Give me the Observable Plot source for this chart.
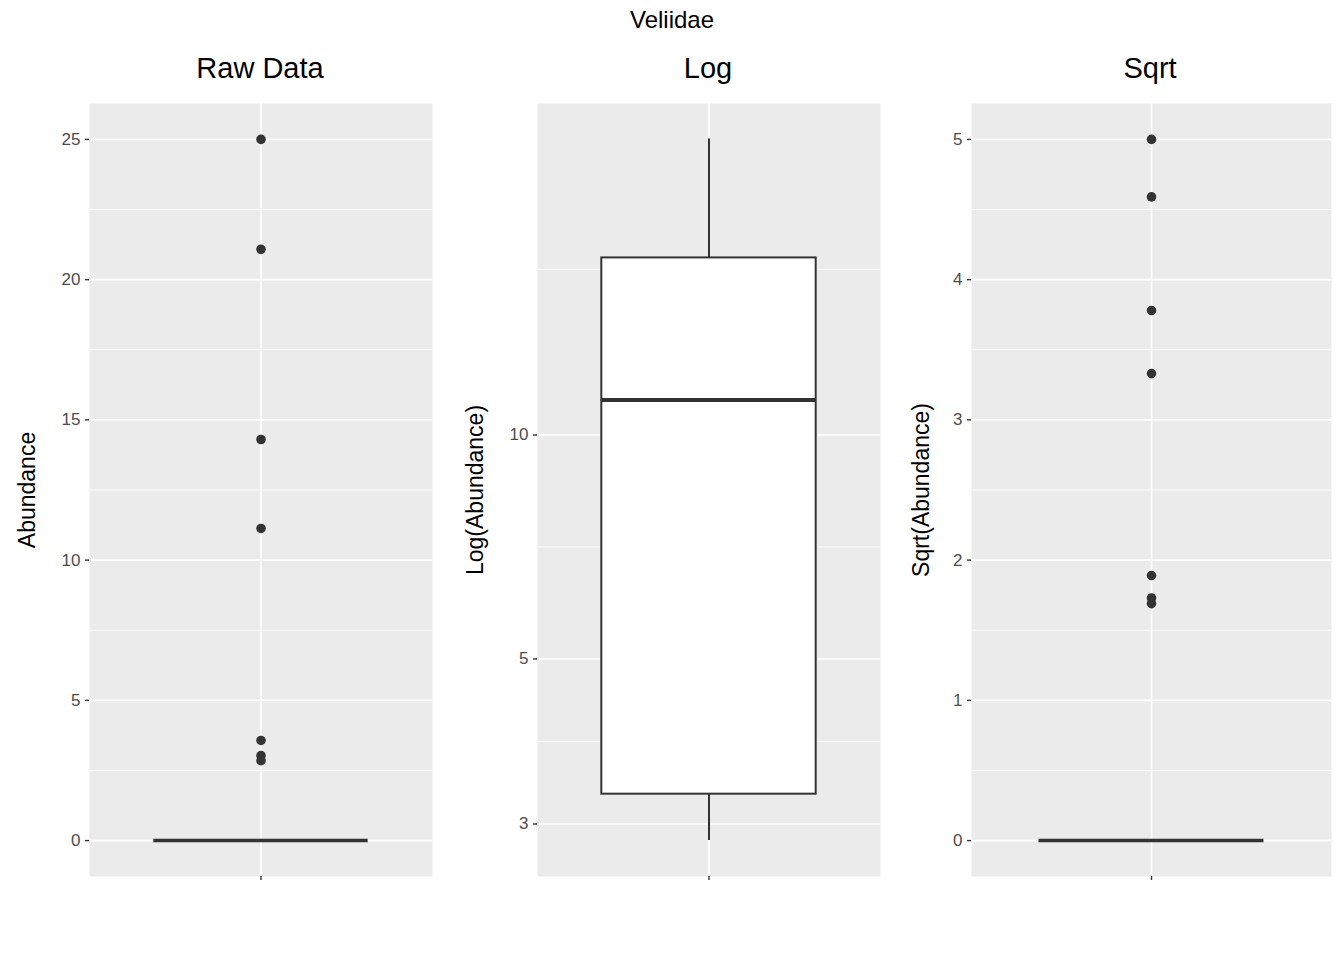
<!DOCTYPE html>
<html><head><meta charset="utf-8">
<script src="https://cdn.jsdelivr.net/npm/d3@7"></script>
<script src="https://cdn.jsdelivr.net/npm/@observablehq/plot@0.6"></script>
<style>
body{margin:0;background:#fff;font-family:"Liberation Sans",Arial,sans-serif}
#wrap{position:relative;width:1344px;height:960px}
.p{position:absolute;top:0}
.t{position:absolute;color:#000;white-space:nowrap;transform:translateX(-50%)}
.yl{position:absolute;font-size:23px;white-space:nowrap;transform:translate(-50%,-50%) rotate(-90deg)}
</style></head><body>
<div id="wrap"></div>
<script>
// raw outliers (box collapsed at 0)
const rawOutliers = [25, 21.08, 14.3, 11.13, 3.57, 3.03, 2.85];
const rawTicks = [0, 5, 10, 15, 20, 25];
const rawMinor = [2.5, 7.5, 12.5, 17.5, 22.5];
// log panel box stats
const logBox = {lowWhisker: 2.85, q1: 3.29, median: 11.14, q3: 17.3, highWhisker: 25};
const logTicks = [3, 5, 10];
const logMinor = [3.87, 7.07, 16.7];
// sqrt outliers
const sqrtOutliers = [5, 4.59, 3.78, 3.33, 1.89, 1.73, 1.69];
const sqrtTicks = [0, 1, 2, 3, 4, 5];
const sqrtMinor = [0.5, 1.5, 2.5, 3.5, 4.5];

const wrap = document.getElementById("wrap");
const ink = "#333333";

function base(ticks, minor) {
  return [
    Plot.frame({fill: "#EBEBEB"}),
    Plot.gridY(minor, {stroke: "white", strokeOpacity: 1, strokeWidth: 0.8}),
    Plot.gridY(ticks, {stroke: "white", strokeOpacity: 1, strokeWidth: 1.6}),
    Plot.gridX([1], {stroke: "white", strokeOpacity: 1, strokeWidth: 1.6}),
    Plot.axisY(ticks, {tickSize: 4, stroke: ink, strokeWidth: 1.4, text: null, label: null}),
    Plot.axisY(ticks, {tickSize: 0, tickPadding: 9, fill: "#4D4D4D", fontSize: 17, tickFormat: d3.format("~g"), label: null}),
    Plot.axisX([1], {tickSize: 4, stroke: ink, strokeWidth: 1.4, text: null, label: null})
  ];
}

function panel(left, width, yopt, marks) {
  const chart = Plot.plot({
    width, height: 960,
    marginLeft: 89, marginRight: 8, marginTop: 103, marginBottom: 84,
    style: {fontSize: "17px", fontFamily: "Liberation Sans, Arial, sans-serif"},
    x: {domain: [0.4, 1.6], axis: null},
    y: {axis: null, ...yopt},
    marks
  });
  chart.classList.add("p");
  chart.style.left = left + "px";
  wrap.appendChild(chart);
}

panel(0, 440, {domain: [-1.28, 26.28]}, [
  ...base(rawTicks, rawMinor),
  Plot.ruleY([0], {x1: 0.625, x2: 1.375, stroke: ink, strokeWidth: 3.5}),
  Plot.dot(rawOutliers, {x: () => 1, y: d => d, r: 4.8, fill: ink})
]);

panel(448, 440, {type: "log", domain: [2.55, 27.9]}, [
  ...base(logTicks, logMinor),
  Plot.ruleX([logBox], {x: () => 1, y1: "q3", y2: "highWhisker", stroke: ink, strokeWidth: 2}),
  Plot.ruleX([logBox], {x: () => 1, y1: "lowWhisker", y2: "q1", stroke: ink, strokeWidth: 2}),
  Plot.rect([logBox], {x1: () => 0.625, x2: () => 1.375, y1: "q1", y2: "q3", fill: "white", stroke: ink, strokeWidth: 2}),
  Plot.ruleY([logBox], {y: "median", x1: 0.625, x2: 1.375, stroke: ink, strokeWidth: 4})
]);

panel(882, 457, {domain: [-0.256, 5.256]}, [
  ...base(sqrtTicks, sqrtMinor),
  Plot.ruleY([0], {x1: 0.625, x2: 1.375, stroke: ink, strokeWidth: 3.5}),
  Plot.dot(sqrtOutliers, {x: () => 1, y: d => d, r: 4.8, fill: ink})
]);

function label(cls, text, x, y, size) {
  const d = document.createElement("div");
  d.className = cls; d.textContent = text;
  d.style.left = x + "px"; d.style.top = y + "px";
  if (size) d.style.fontSize = size + "px";
  wrap.appendChild(d);
}
label("t", "Veliidae", 672, 6, 24);
label("t", "Raw Data", 260, 52, 29);
label("t", "Log", 708, 52, 29);
label("t", "Sqrt", 1150, 52, 29);
label("yl", "Abundance", 27, 490);
label("yl", "Log(Abundance)", 475, 490);
label("yl", "Sqrt(Abundance)", 921, 490);
</script>
</body></html>
